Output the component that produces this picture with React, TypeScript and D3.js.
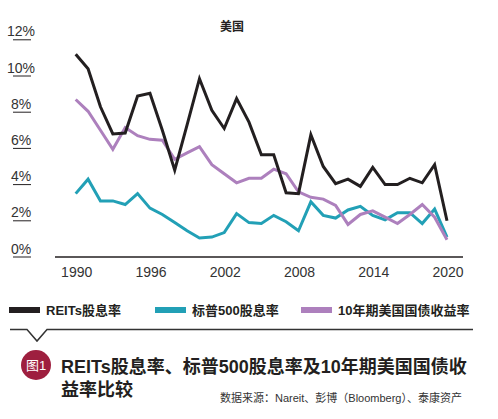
import React from "react";
import * as d3 from "d3";

const years = d3.range(1990, 2021);
const reitsYield = [11.2, 10.4, 8.3, 6.8, 6.85, 8.9, 9.05, 7.0, 4.8, 7.3, 9.85, 8.1, 7.1, 8.75, 7.45, 5.65, 5.65, 3.55, 3.5, 6.75, 5.0, 4.05, 4.3, 3.9, 4.95, 4.0, 4.0, 4.35, 4.1, 5.1, 2.0];
const sp500Yield = [3.5, 4.3, 3.1, 3.1, 2.9, 3.5, 2.7, 2.35, 1.9, 1.45, 1.05, 1.1, 1.35, 2.4, 1.9, 1.85, 2.3, 1.95, 1.45, 3.05, 2.3, 2.15, 2.6, 2.8, 2.3, 2.05, 2.45, 2.45, 1.85, 2.65, 1.1];
const treasuryYield = [8.7, 8.05, 7.0, 5.95, 7.15, 6.7, 6.5, 6.45, 5.4, 5.75, 6.1, 5.1, 4.6, 4.1, 4.35, 4.35, 4.85, 4.6, 3.6, 3.3, 3.2, 2.85, 1.8, 2.35, 2.55, 2.2, 1.85, 2.35, 2.9, 2.2, 0.95];
const yTicks = [0, 2, 4, 6, 8, 10, 12];
const xTicks = [1990, 1996, 2002, 2008, 2014, 2020];
const seriesNames = ["REITs股息率", "标普500股息率", "10年期美国国债收益率"];
const seriesColors = ["#231f20", "#22a0b6", "#ad80bd"];

const LATIN = "'Liberation Sans', 'Noto Sans CJK SC', sans-serif";

export default function App() {
  const x = d3.scaleLinear().domain([1990, 2020]).range([75.7, 447]);
  const y = d3.scaleLinear().domain([0, 12]).range([257, 39.8]);
  const line = d3
    .line<number>()
    .x((_, i) => x(years[i]))
    .y((d) => y(d));
  const series = [reitsYield, sp500Yield, treasuryYield];
  const legendX = [9, 155, 301];

  return (
    <svg
      width={498}
      height={419}
      style={{ position: "absolute", left: 0, top: 0, background: "#fff" }}
      fontFamily={LATIN}
    >
      <text x={232} y={31} textAnchor="middle" fontSize={12} fontWeight="bold" fill="#231f20">
        美国
      </text>
      {yTicks.map((t) => (
        <g key={t}>
          <text x={21} y={y(t) - 3.5} textAnchor="middle" fontSize={14} fill="#333" fontWeight={300}>
            {t}%
          </text>
          <line x1={13} x2={31} y1={y(t)} y2={y(t)} stroke="#231f20" strokeWidth={1} />
        </g>
      ))}
      <line x1={55} x2={463} y1={257} y2={257} stroke="#231f20" strokeWidth={1.5} />
      {xTicks.map((t) => (
        <text key={t} x={x(t) + 1} y={277} textAnchor="middle" fontSize={14} fill="#333">
          {t}
        </text>
      ))}
      {[sp500Yield, treasuryYield, reitsYield].map((s, k) => {
        const idx = series.indexOf(s);
        return (
          <path
            key={k}
            d={line(s) || ""}
            fill="none"
            stroke={seriesColors[idx]}
            strokeWidth={3}
            strokeLinejoin="miter"
          />
        );
      })}
      {seriesNames.map((n, i) => (
        <g key={n}>
          <rect x={legendX[i]} y={307} width={31} height={6} fill={seriesColors[i]} />
          <text x={legendX[i] + 37} y={315} fontSize={13} fontWeight="bold" fill="#231f20">
            {n}
          </text>
        </g>
      ))}
      <path
        d="M10,329.5 L27,329.5 L37,341 L47,329.5 L473,329.5"
        fill="none"
        stroke="#333"
        strokeWidth={1.5}
      />
      <circle cx={36} cy={365} r={15} fill="#9e1f3f" />
      <text x={36} y={369.5} textAnchor="middle" fontSize={13} fill="#fff">
        图1
      </text>
      <text x={61} y={373} fontSize={18} fontWeight="bold" fill="#231f20">
        REITs股息率、标普500股息率及10年期美国国债收
      </text>
      <text x={61} y={396} fontSize={18} fontWeight="bold" fill="#231f20">
        益率比较
      </text>
      <text x={462} y={402} textAnchor="end" fontSize={11} fill="#333">
        数据来源：Nareit、彭博（Bloomberg）、泰康资产
      </text>
    </svg>
  );
}
